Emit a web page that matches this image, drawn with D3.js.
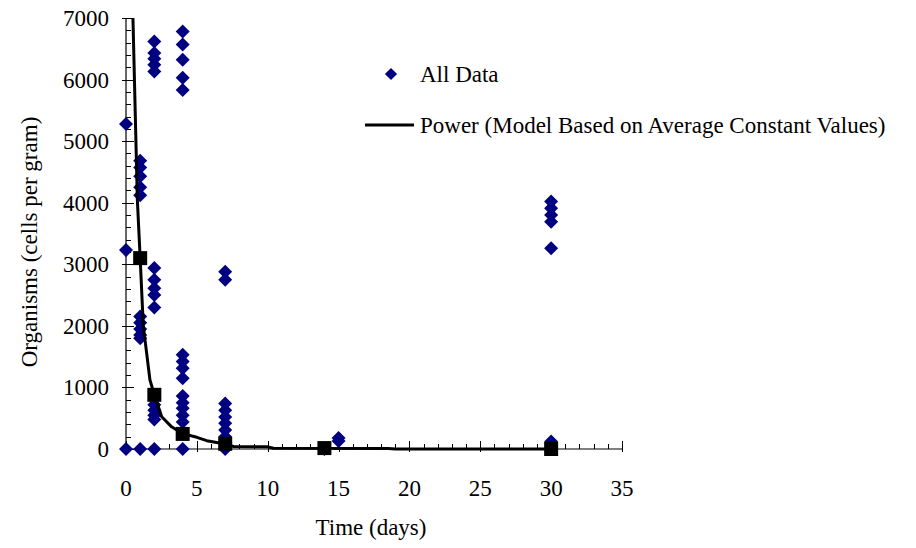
<!DOCTYPE html>
<html>
<head>
<meta charset="utf-8">
<script src="https://cdn.jsdelivr.net/npm/d3@7"></script>
<style>
  html, body { margin: 0; padding: 0; background: #fff; }
  svg text { font-family: "Liberation Serif", "Times New Roman", serif; fill: #000; }
</style>
</head>
<body>
<svg id="chart" width="916" height="548"></svg>
<script>
// Measured organism counts (cells per gram) by sampling day
const sampleDays = [0, 1, 2, 4, 7, 14, 15, 30];
const countsByDay = [
  [5280, 3230, 0],
  [4680, 4570, 4430, 4250, 4120, 2150, 2050, 1950, 1850, 1800, 0],
  [6620, 6430, 6340, 6240, 6130, 2940, 2750, 2610, 2500, 2300, 720, 630, 550, 480, 0],
  [6780, 6570, 6320, 6030, 5830, 1530, 1420, 1310, 1150, 860, 750, 660, 550, 440, 0],
  [2880, 2750, 740, 630, 520, 420, 310, 200, 100, 0],
  [0],
  [180, 130],
  [4020, 3910, 3800, 3690, 3260, 120]
];

// Power model curve (average constant values)
const modelDays   = [0.49, 0.8, 1, 1.22, 1.69, 2, 2.52, 3.22, 4, 5, 5.7, 7, 7.6, 10, 10.4, 18.5, 19, 30];
const modelCounts = [7000, 4050, 3100, 2000, 1120, 880, 525, 360, 250, 190, 135, 80, 40, 35, 12, 8, 0, 0];

// Model values at the sampling days
const modelPointDays   = [1, 2, 4, 7, 14, 30];
const modelPointCounts = [3100, 880, 245, 85, 15, 0];

const xTicks = [0, 5, 10, 15, 20, 25, 30, 35];
const yTicks = [0, 1000, 2000, 3000, 4000, 5000, 6000, 7000];
const xMinorTicks = d3.range(0, 36, 1);
const yMinorTicks = d3.range(0, 7001, 200);

const svg = d3.select("#chart");
const x = d3.scaleLinear().domain([0, 35]).range([126, 622]);
const y = d3.scaleLinear().domain([0, 7000]).range([449, 18]);

const navy = "#000080";
const fontSize = 23;

// Y axis: line, minor ticks inside, major ticks crossing
const yAxisG = svg.append("g");
yAxisG.append("line")
  .attr("x1", x(0)).attr("x2", x(0))
  .attr("y1", y(0)).attr("y2", y(7000))
  .attr("stroke", "#000").attr("stroke-width", 1.2);
yAxisG.selectAll("line.minor").data(yMinorTicks).join("line")
  .attr("class", "minor")
  .attr("x1", x(0)).attr("x2", x(0) + 5)
  .attr("y1", d => Math.round(y(d)) + 0.5).attr("y2", d => Math.round(y(d)) + 0.5)
  .attr("stroke", "#000").attr("stroke-width", 1);
yAxisG.selectAll("line.major").data(yTicks).join("line")
  .attr("class", "major")
  .attr("x1", x(0) - 4).attr("x2", x(0) + 8)
  .attr("y1", d => Math.round(y(d)) + 0.5).attr("y2", d => Math.round(y(d)) + 0.5)
  .attr("stroke", "#000").attr("stroke-width", 1);
yAxisG.selectAll("text").data(yTicks).join("text")
  .attr("x", 109).attr("y", d => y(d))
  .attr("dy", "0.35em")
  .attr("text-anchor", "end")
  .attr("font-size", fontSize)
  .text(d => d);

// X axis: line, minor ticks inside, major ticks crossing
const xAxisG = svg.append("g");
xAxisG.append("line")
  .attr("x1", x(0)).attr("x2", x(35))
  .attr("y1", y(0)).attr("y2", y(0))
  .attr("stroke", "#000").attr("stroke-width", 1.2);
xAxisG.selectAll("line.minor").data(xMinorTicks).join("line")
  .attr("class", "minor")
  .attr("x1", d => Math.round(x(d)) + 0.5).attr("x2", d => Math.round(x(d)) + 0.5)
  .attr("y1", y(0)).attr("y2", y(0) - 5)
  .attr("stroke", "#000").attr("stroke-width", 1);
xAxisG.selectAll("line.major").data(xTicks).join("line")
  .attr("class", "major")
  .attr("x1", d => Math.round(x(d)) + 0.5).attr("x2", d => Math.round(x(d)) + 0.5)
  .attr("y1", y(0) + 3).attr("y2", y(0) - 8)
  .attr("stroke", "#000").attr("stroke-width", 1);
xAxisG.selectAll("text").data(xTicks).join("text")
  .attr("x", d => x(d)).attr("y", 496)
  .attr("text-anchor", "middle")
  .attr("font-size", fontSize)
  .text(d => d);

// Axis titles
svg.append("text")
  .attr("x", 371).attr("y", 535)
  .attr("text-anchor", "middle")
  .attr("font-size", fontSize)
  .text("Time (days)");
svg.append("text")
  .attr("transform", "translate(29,242) rotate(-90)")
  .attr("text-anchor", "middle")
  .attr("dy", "0.35em")
  .attr("font-size", fontSize)
  .text("Organisms (cells per gram)");

// Scatter of all measurements
const allPoints = sampleDays.flatMap((day, i) => countsByDay[i].map(v => ({ day, v })));
const diamond = d3.symbol().type(d3.symbolDiamond2).size(125);
svg.append("g").selectAll("path").data(allPoints).join("path")
  .attr("transform", d => `translate(${x(d.day)},${y(d.v)})`)
  .attr("d", diamond)
  .attr("fill", navy);

// Model curve
const modelLine = d3.line().x(d => x(d[0])).y(d => y(d[1]));
svg.append("path")
  .datum(modelDays.map((d, i) => [d, modelCounts[i]]))
  .attr("d", modelLine)
  .attr("fill", "none")
  .attr("stroke", "#000")
  .attr("stroke-width", 3)
  .attr("stroke-linejoin", "round");

// Model markers
const sq = 14;
svg.append("g").selectAll("rect").data(modelPointDays.map((d, i) => [d, modelPointCounts[i]])).join("rect")
  .attr("x", d => x(d[0]) - sq / 2).attr("y", d => y(d[1]) - sq / 2)
  .attr("width", sq).attr("height", sq)
  .attr("fill", "#000");

// Legend
const legend = svg.append("g");
legend.append("path")
  .attr("transform", "translate(391,74)")
  .attr("d", d3.symbol().type(d3.symbolDiamond2).size(95))
  .attr("fill", navy);
legend.append("text")
  .attr("x", 420).attr("y", 74).attr("dy", "0.35em")
  .attr("font-size", fontSize)
  .text("All Data");
legend.append("line")
  .attr("x1", 365).attr("x2", 414)
  .attr("y1", 125).attr("y2", 125)
  .attr("stroke", "#000").attr("stroke-width", 3);
legend.append("text")
  .attr("x", 420).attr("y", 125).attr("dy", "0.35em")
  .attr("font-size", fontSize)
  .text("Power (Model Based on Average Constant Values)");
</script>
</body>
</html>
